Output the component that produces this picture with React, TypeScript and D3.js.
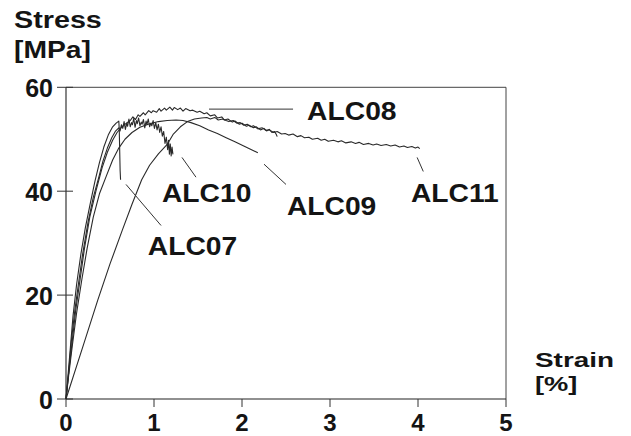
import React from "react";
import * as d3 from "d3";

// Strain [%] / stress [MPa] samples for each specimen
const ALC07: [number, number][] = [
  [0, 0], [0.02, 4], [0.05, 10], [0.08, 16], [0.12, 22], [0.17, 28], [0.22, 33],
  [0.28, 38], [0.33, 42], [0.38, 45.5], [0.43, 48.5], [0.48, 50.8], [0.53, 52.4],
  [0.57, 53.1], [0.6, 53.5], [0.605, 52], [0.61, 48], [0.615, 44], [0.62, 42.2],
];

const ALC10: [number, number][] = [
  [0, 0], [0.03, 5], [0.06, 11], [0.1, 17], [0.14, 22], [0.19, 28], [0.25, 34],
  [0.31, 38.8], [0.37, 42.5], [0.42, 45.8], [0.47, 48.3], [0.52, 50.3], [0.56, 51.5],
  [0.6, 52.2], [0.615, 51.6], [0.63, 52.8], [0.645, 52.1], [0.66, 53.4], [0.675, 51.9],
  [0.69, 53.1], [0.7, 52.5], [0.715, 53.9], [0.73, 52.4], [0.745, 53.2], [0.755, 52.8],
  [0.77, 54], [0.785, 52.3], [0.8, 53.6], [0.81, 53], [0.825, 54.1], [0.84, 52.6],
  [0.855, 53.3], [0.865, 52.9], [0.88, 53.8], [0.895, 52.2], [0.91, 53.5], [0.92, 52.8],
  [0.935, 53.9], [0.95, 52.4], [0.965, 53.1], [0.975, 52.6], [0.99, 53.6], [1.005, 52.1],
  [1.02, 53.2], [1.035, 51.8], [1.05, 52.9], [1.065, 51.3], [1.08, 52.4], [1.095, 50.6],
  [1.11, 51.5], [1.125, 49.2], [1.14, 50.4], [1.155, 48], [1.165, 49.8], [1.175, 47.1],
  [1.185, 49.1], [1.195, 46.8], [1.205, 48.5], [1.215, 47.1],
];

const ALC08: [number, number][] = [
  [0, 0], [0.03, 5], [0.07, 11], [0.11, 17], [0.16, 23], [0.21, 29], [0.27, 35],
  [0.34, 40], [0.41, 44.5], [0.47, 47.5], [0.53, 49.8], [0.58, 51.3], [0.63, 52.3],
  [0.68, 53], [0.73, 53.6], [0.76, 54.3], [0.79, 53.8], [0.82, 54.7], [0.84, 54.4],
  [0.88, 55.1], [0.9, 54.7], [0.94, 55.5], [0.97, 55.1], [0.99, 55.5], [1.03, 55.2],
  [1.06, 55.9], [1.08, 55.4], [1.12, 56], [1.14, 55.6], [1.18, 56.2], [1.21, 55.6],
  [1.23, 56.1], [1.27, 55.7], [1.3, 56], [1.33, 55.4], [1.36, 55.9], [1.41, 55.5],
  [1.44, 55.6], [1.49, 55.2], [1.52, 55.4], [1.57, 54.9], [1.6, 55.1], [1.64, 54.5],
  [1.69, 54.7], [1.72, 54.1], [1.77, 54.3], [1.8, 53.7], [1.84, 53.9], [1.89, 53.3],
  [1.92, 53.5], [1.97, 52.9], [2.0, 53.1], [2.05, 52.5], [2.08, 52.7], [2.13, 52.2],
  [2.16, 52.4], [2.21, 51.8], [2.25, 52.1], [2.28, 51.6], [2.31, 51.9], [2.34, 51.3],
  [2.37, 51.5], [2.39, 50.9], [2.4, 50.5],
];

const ALC09: [number, number][] = [
  [0, 0], [0.03, 4.5], [0.07, 10], [0.12, 16.5], [0.18, 23], [0.24, 29], [0.31, 35],
  [0.38, 39.5], [0.46, 43], [0.53, 46], [0.6, 48.3], [0.67, 50], [0.75, 51.3],
  [0.84, 52.3], [0.95, 53], [1.05, 53.4], [1.15, 53.6], [1.25, 53.7], [1.33, 53.6],
  [1.42, 53.2], [1.52, 52.6], [1.62, 51.8], [1.72, 51.1], [1.82, 50.3], [1.92, 49.5],
  [2.02, 48.7], [2.12, 47.9], [2.18, 47.4],
];

const ALC11: [number, number][] = [
  [0, 0], [0.2, 10.5], [0.36, 19], [0.5, 26], [0.64, 32.5], [0.75, 37.5], [0.86, 42.2],
  [0.95, 45], [1.05, 47.2], [1.15, 49], [1.22, 51], [1.3, 52.4], [1.38, 53.4],
  [1.46, 53.9], [1.54, 54.1], [1.6, 54.2], [1.64, 53.9], [1.69, 54.2], [1.73, 53.7],
  [1.78, 53.9], [1.82, 53.6], [1.85, 53.4], [1.9, 53.6], [1.94, 53.1], [1.98, 53.2],
  [2.02, 52.7], [2.06, 52.9], [2.1, 52.4], [2.13, 52.6], [2.18, 52.0], [2.23, 52.2],
  [2.27, 51.7], [2.31, 51.8], [2.36, 51.3], [2.4, 51.5], [2.45, 51.0], [2.49, 51.1],
  [2.53, 50.8], [2.58, 51.0], [2.63, 50.5], [2.67, 50.7], [2.71, 50.3], [2.76, 50.4],
  [2.8, 50.0], [2.86, 50.2], [2.9, 49.8], [2.94, 50.0], [2.98, 49.6], [3.04, 49.8],
  [3.09, 49.5], [3.13, 49.7], [3.18, 49.3], [3.24, 49.5], [3.29, 49.2], [3.33, 49.4],
  [3.38, 49.0], [3.44, 49.2], [3.49, 48.9], [3.53, 49.1], [3.58, 48.8], [3.64, 49.0],
  [3.69, 48.7], [3.74, 48.9], [3.79, 48.5], [3.84, 48.7], [3.88, 48.4], [3.93, 48.6],
  [3.97, 48.3], [4.0, 48.5], [4.02, 48.2],
];

const SERIES = [ALC07, ALC10, ALC08, ALC09, ALC11];

const X_TICKS = [0, 1, 2, 3, 4, 5];
const Y_TICKS = [0, 20, 40, 60];

// Specimen labels with leader lines, in strain/stress units
const LABEL_NAMES = ["ALC08", "ALC10", "ALC07", "ALC09", "ALC11"];
const LABEL_AT: [number, number][] = [[2.74, 53.7], [1.09, 37.9], [0.93, 27.7], [2.51, 35.4], [3.92, 37.9]];
const LEADERS: [number, number, number, number][] = [
  [1.625, 55.8, 2.58, 55.8],
  [1.318, 46.5, 1.477, 42.7],
  [0.682, 41.3, 1.08, 33.4],
  [2.25, 45.2, 2.5, 41.3],
  [3.99, 46.5, 4.06, 43.8],
];

const W = 631;
const H = 436;
const FONT = "'Liberation Sans', Arial, Helvetica, sans-serif";
const INK = "#141414";

function Word({
  x, y, text, size = 25, wide = 1.13,
}: { x: number; y: number; text: string; size?: number; wide?: number }) {
  return (
    <text
      transform={`translate(${x},${y}) scale(${wide},1)`}
      fontFamily={FONT}
      fontWeight="bold"
      fontSize={size}
      fill={INK}
    >
      {text}
    </text>
  );
}

export default function App() {
  const x = d3.scaleLinear().domain([0, 5]).range([66, 506]);
  const y = d3.scaleLinear().domain([0, 60]).range([399, 87.3]);
  const line = d3
    .line<[number, number]>()
    .x((d) => x(d[0]))
    .y((d) => y(d[1]))
    .curve(d3.curveLinear);

  return (
    <svg
      width={W}
      height={H}
      viewBox={`0 0 ${W} ${H}`}
      style={{ position: "absolute", left: 0, top: 0, background: "#fff" }}
    >
      <rect x={0} y={0} width={W} height={H} fill="#fff" />

      {/* frame */}
      <line x1={x(0)} x2={x(5)} y1={y(60)} y2={y(60)} stroke="#444" strokeWidth={1} />
      <line x1={x(5)} x2={x(5)} y1={y(60)} y2={y(0)} stroke="#444" strokeWidth={1} />
      <line x1={x(0)} x2={x(0)} y1={y(60)} y2={y(0)} stroke="#222" strokeWidth={1.1} />
      <line x1={x(0)} x2={x(5)} y1={y(0)} y2={y(0)} stroke="#222" strokeWidth={1.1} />

      {/* y axis ticks and labels */}
      {Y_TICKS.map((t) => (
        <g key={`y${t}`}>
          <line x1={x(0) - 9} x2={x(0) + 7} y1={y(t)} y2={y(t)} stroke="#333" strokeWidth={1} />
          <text
            x={53}
            y={y(t) + 9.5}
            textAnchor="end"
            fontFamily={FONT}
            fontWeight="bold"
            fontSize={25}
            fill={INK}
          >
            {t}
          </text>
        </g>
      ))}

      {/* x axis ticks and labels */}
      {X_TICKS.map((t) => (
        <g key={`x${t}`}>
          <line x1={x(t)} x2={x(t)} y1={y(0)} y2={y(0) + 8} stroke="#333" strokeWidth={1} />
          <text
            x={x(t)}
            y={430.5}
            textAnchor="middle"
            fontFamily={FONT}
            fontWeight="bold"
            fontSize={24}
            fill={INK}
          >
            {t}
          </text>
        </g>
      ))}

      {/* axis titles */}
      <Word x={14} y={28} text="Stress" size={23} wide={1.25} />
      <Word x={14} y={58} text="[MPa]" size={23} wide={1.23} />
      <Word x={535} y={367} text="Strain" size={21} wide={1.33} />
      <Word x={535} y={391} text="[%]" size={21} wide={1.3} />

      {/* stress-strain curves */}
      {SERIES.map((s, i) => (
        <path
          key={i}
          d={line(s) ?? ""}
          fill="none"
          stroke="#2a2a2a"
          strokeWidth={1.1}
          strokeLinejoin="round"
        />
      ))}

      {/* leader lines and specimen labels */}
      {LEADERS.map((l, i) => (
        <line key={`l${i}`} x1={x(l[0])} y1={y(l[1])} x2={x(l[2])} y2={y(l[3])} stroke="#333" strokeWidth={1} />
      ))}
      {LABEL_NAMES.map((n, i) => (
        <Word key={n} x={x(LABEL_AT[i][0])} y={y(LABEL_AT[i][1])} text={n} />
      ))}
    </svg>
  );
}
